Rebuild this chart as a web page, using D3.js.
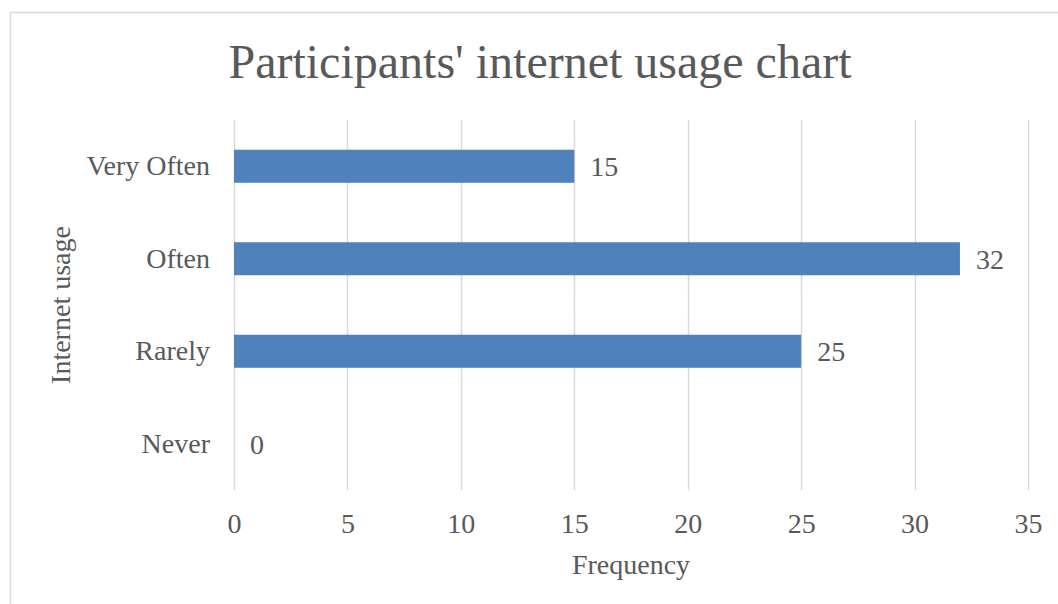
<!DOCTYPE html>
<html>
<head>
<meta charset="utf-8">
<script src="https://cdn.jsdelivr.net/npm/d3@7"></script>
<style>
  body { margin: 0; background: #fff; }
  text { font-family: "Liberation Serif", "Times New Roman", serif; fill: #595959; }
</style>
</head>
<body>
<div id="chart"></div>
<script>
// dati
const categories = ["Very Often", "Often", "Rarely", "Never"];
const frequencies = [15, 32, 25, 0];
const xTicks = [0, 5, 10, 15, 20, 25, 30, 35];

const width = 1058;
const height = 604;
const plot = { left: 234, right: 1028, top: 120, bottom: 490 };
const labelSize = "28px";

const svg = d3.select("#chart")
    .append("svg")
    .attr("width", width)
    .attr("height", height);

// bordo dell'area del grafico
svg.append("rect")
    .attr("x", 10.5)
    .attr("y", 12.5)
    .attr("width", 1100)
    .attr("height", 700)
    .attr("fill", "none")
    .attr("stroke", "#d9d9d9")
    .attr("stroke-width", 1.5);

const x = d3.scaleLinear().domain([0, 35]).range([plot.left, plot.right]);
const y = d3.scaleBand()
    .domain(categories)
    .range([plot.top, plot.bottom])
    .paddingInner(0.643)
    .paddingOuter(0.3215);

// griglia verticale
svg.append("g")
    .selectAll("line")
    .data(xTicks)
    .enter()
    .append("line")
    .attr("x1", d => Math.round(x(d)) + 0.5)
    .attr("x2", d => Math.round(x(d)) + 0.5)
    .attr("y1", plot.top)
    .attr("y2", plot.bottom)
    .attr("stroke", "#d9d9d9")
    .attr("stroke-width", 1.5);

// asse x (solo etichette)
const xAxis = svg.append("g")
    .attr("transform", `translate(0,${plot.bottom})`)
    .call(d3.axisBottom(x).tickValues(xTicks).tickSize(0).tickPadding(23));
xAxis.select(".domain").remove();
xAxis.selectAll("text")
    .attr("font-size", labelSize)
    .style("font-family", "Liberation Serif, serif")
    .attr("fill", "#595959");

// asse y (solo etichette)
const yAxis = svg.append("g")
    .attr("transform", `translate(${plot.left},0)`)
    .call(d3.axisLeft(y).tickSize(0).tickPadding(24));
yAxis.select(".domain").remove();
yAxis.selectAll("text")
    .attr("font-size", labelSize)
    .style("font-family", "Liberation Serif, serif")
    .attr("fill", "#595959");

// barre
svg.append("g")
    .selectAll("rect")
    .data(categories)
    .enter()
    .append("rect")
    .attr("x", x(0))
    .attr("y", d => y(d))
    .attr("width", (d, i) => x(frequencies[i]) - x(0))
    .attr("height", y.bandwidth())
    .attr("fill", "#4f81bd");

// etichette dei valori
svg.append("g")
    .selectAll("text")
    .data(categories)
    .enter()
    .append("text")
    .attr("x", (d, i) => x(frequencies[i]) + 16)
    .attr("y", d => y(d) + y.bandwidth() / 2)
    .attr("dy", "0.35em")
    .attr("font-size", labelSize)
    .text((d, i) => frequencies[i]);

// titolo
svg.append("text")
    .attr("x", 540)
    .attr("y", 78)
    .attr("text-anchor", "middle")
    .attr("font-size", "48px")
    .text("Participants' internet usage chart");

// titoli degli assi
svg.append("text")
    .attr("x", 631)
    .attr("y", 574)
    .attr("text-anchor", "middle")
    .attr("font-size", labelSize)
    .text("Frequency");

svg.append("text")
    .attr("transform", "translate(70,305) rotate(-90)")
    .attr("text-anchor", "middle")
    .attr("font-size", labelSize)
    .text("Internet usage");
</script>
</body>
</html>
